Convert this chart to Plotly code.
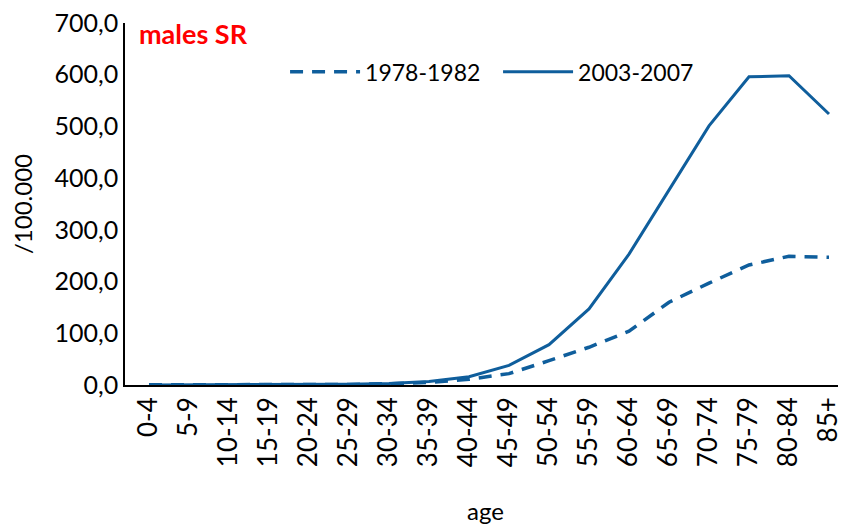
import plotly.graph_objects as go

age_groups = ["0-4", "5-9", "10-14", "15-19", "20-24", "25-29", "30-34", "35-39",
              "40-44", "45-49", "50-54", "55-59", "60-64", "65-69", "70-74",
              "75-79", "80-84", "85+"]
rate_1978_1982 = [0.3, 0.2, 0.3, 0.5, 0.8, 1.2, 2.5, 5, 11, 22, 47, 73, 104,
                  160, 197, 232, 249, 247]
rate_2003_2007 = [0.2, 0.2, 0.2, 0.4, 0.6, 1.5, 3, 7, 16, 38, 78, 147, 253,
                  377, 501, 596, 598, 524]

blue = "#0F5E9C"
font = "Lato, Calibri, Arial, sans-serif"

fig = go.Figure()
fig.add_trace(go.Scatter(x=age_groups, y=rate_1978_1982, mode="lines", name="1978-1982",
                         line=dict(color=blue, width=3.5, dash="13px,9px")))
fig.add_trace(go.Scatter(x=age_groups, y=rate_2003_2007, mode="lines", name="2003-2007",
                         line=dict(color=blue, width=3)))

fig.update_layout(
    width=846, height=525,
    margin=dict(l=117, r=8, t=15, b=148),
    paper_bgcolor="white", plot_bgcolor="white",
    separators=",.",
    font=dict(family=font, size=25, color="black"),
    showlegend=True,
    legend=dict(orientation="h", x=0.222, y=0.865, xanchor="left", yanchor="middle",
                font=dict(size=23), itemwidth=70, entrywidth=128,
                bgcolor="rgba(0,0,0,0)"),
    xaxis=dict(type="category", range=[-0.6, 17.425], showline=True, linecolor="black",
               linewidth=1.5, ticks="", tickangle=-90, showgrid=False, automargin=False,
               tickfont=dict(size=26),
               title=dict(text="age", standoff=37, font=dict(size=24))),
    yaxis=dict(range=[0, 700], dtick=100, tickformat=".1f", showline=True,
               linecolor="black", linewidth=1.5, ticks="", showgrid=False,
               zeroline=False, automargin=False, ticklabeloverflow="allow",
               title=dict(text="/100.000", standoff=19, font=dict(size=24))),
    annotations=[dict(text="<b>males SR</b>", x=0.017, y=0.97, xref="paper", yref="paper",
                      xanchor="left", yanchor="middle", showarrow=False,
                      font=dict(color="#FF0000", size=27, family=font))],
)

fig.write_html("out.html")
